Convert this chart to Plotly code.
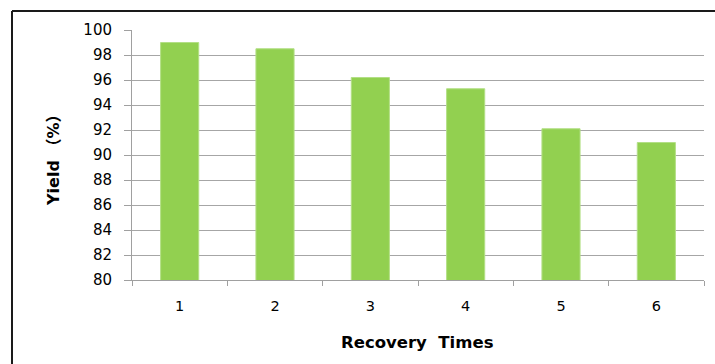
import plotly.graph_objects as go

categories = ["1", "2", "3", "4", "5", "6"]
yield_values = [99.0, 98.5, 96.2, 95.3, 92.1, 91.0]
y_ticks = [80, 82, 84, 86, 88, 90, 92, 94, 96, 98, 100]

W, H = 715, 364
L, R, T, B = 132, 11, 30, 84
pw, ph = W - L - R, H - T - B

def px(x):
    return (x - L) / pw

def py(y):
    return (H - B - y) / ph

fig = go.Figure(go.Bar(
    x=categories, y=yield_values, width=0.4,
    marker=dict(color="#92D050", line=dict(color="#B3DF86", width=1)),
))

fig.update_layout(
    width=W, height=H,
    margin=dict(l=L, r=R, t=T, b=B),
    paper_bgcolor="white", plot_bgcolor="white",
    showlegend=False,
    font=dict(family="DejaVu Sans, Noto Sans CJK SC", size=14, color="#000000"),
    xaxis=dict(
        type="category", showline=True, linecolor="#A0A0A0", linewidth=1,
        ticks="outside", tickson="boundaries", ticklen=5, tickcolor="#A0A0A0",
        tickfont=dict(size=14.5), showgrid=False, ticklabelstandoff=13,
    ),
    yaxis=dict(
        range=[80, 100], tickvals=y_ticks, showline=True, linecolor="#A0A0A0",
        linewidth=1, ticks="outside", ticklen=7, tickcolor="#A0A0A0",
        showgrid=True, gridcolor="#A6A6A6", gridwidth=1,
        tickfont=dict(size=15), ticklabelstandoff=9, zeroline=False,
    ),
    annotations=[
        dict(text="<b>Recovery  Times</b>", xref="paper", yref="paper",
             x=px(417), y=py(342), showarrow=False, xanchor="center", yanchor="middle",
             font=dict(size=16.5, family="DejaVu Sans")),
        dict(text="<b>Yield （%）</b>", xref="paper", yref="paper",
             x=px(53), y=py(157), showarrow=False, textangle=-90,
             xanchor="center", yanchor="middle",
             font=dict(size=16, family="DejaVu Sans, Noto Sans CJK SC")),
    ],
    shapes=[
        dict(type="line", xref="paper", yref="paper", x0=px(12), x1=px(12),
             y0=py(11), y1=py(380), line=dict(color="#1A1A1A", width=2)),
        dict(type="line", xref="paper", yref="paper", x0=px(12), x1=px(730),
             y0=py(11), y1=py(11), line=dict(color="#1A1A1A", width=2)),
    ],
)

fig.write_html("out.html")
